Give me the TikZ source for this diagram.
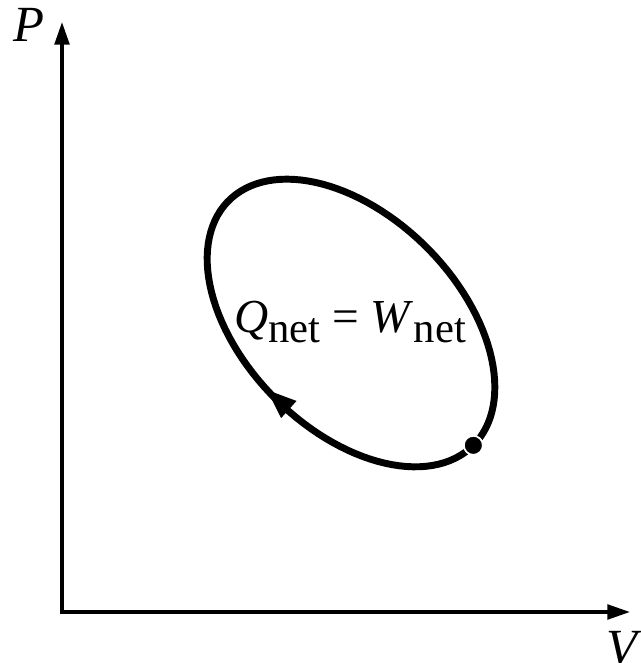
\documentclass[tikz,border=0pt]{standalone}
\usepackage{fontspec}
\setmainfont{Liberation Serif}
\usetikzlibrary{arrows.meta}
\tikzset{
  axisline/.style={line width=2.6pt,line join=miter,{Triangle[length=17pt,width=11pt]}-{Triangle[length=17pt,width=11pt]}},
  cycleline/.style={line width=5.2pt,line join=round},
  axislabel/.style={font=\fontsize{38}{40}\selectfont\itshape,inner sep=0pt},
  eqlabel/.style={font=\fontsize{35.5}{38}\selectfont,inner sep=0pt},
}
\newcommand{\subnet}{\raisebox{-0.2em}{\fontsize{32}{34}\selectfont net}}
\newcommand{\ex}[1]{351+173*cos(#1)*cos(135)-107*sin(#1)*sin(135)}
\newcommand{\ey}[1]{340+173*cos(#1)*sin(135)+107*sin(#1)*cos(135)}
\begin{document}
\begin{tikzpicture}[x=0.75pt,y=0.75pt]
\useasboundingbox (0,0) rectangle (641,663);
\coordinate (O) at (62,51);
\coordinate (Ptip) at (62,641);
\coordinate (Vtip) at (630,51);
\draw[axisline] (Ptip) -- (O) -- (Vtip);
\node[axislabel] (P) at (29,638) {P};
\node[axislabel] (V) at (622,15) {V};
% cycle
\draw[cycleline] plot[domain=180:-175,samples=120] ({\ex{\x}},{\ey{\x}});
\coordinate (A1) at ({\ex{104}},{\ey{104}});
\coordinate (A2) at ({\ex{86}},{\ey{86}});
\draw[line width=1pt,-{Triangle[length=22pt,width=17pt]}] (A1) -- (A2);
\coordinate (D) at ({\ex{180}},{\ey{180}});
\filldraw[fill=black,draw=white,line width=1.3pt] (D) circle (9.5);
\node[eqlabel] (eq) at (350,341) {\textit{Q}\subnet{} = \textit{W}\subnet};
\end{tikzpicture}
\end{document}
